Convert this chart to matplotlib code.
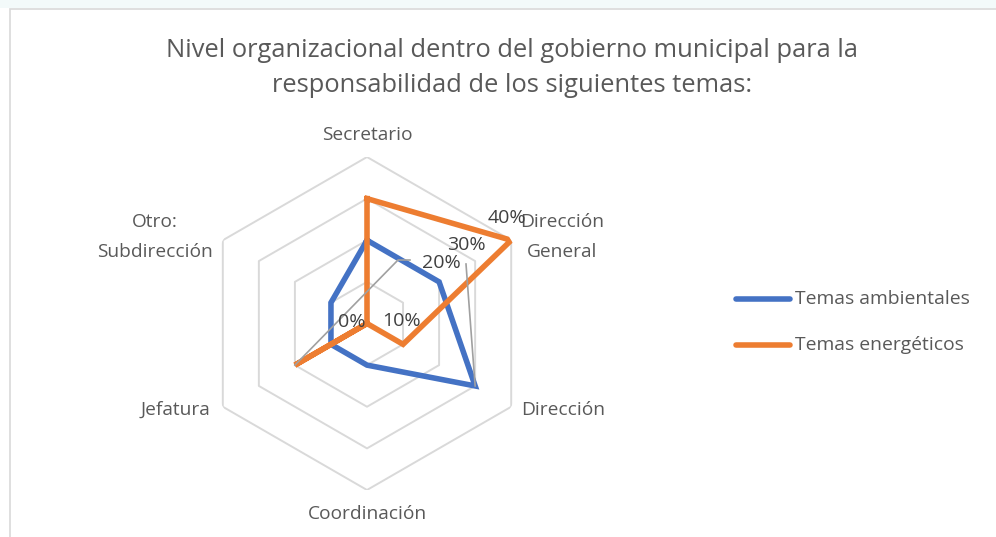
import numpy as np
import matplotlib
matplotlib.use("Agg")
import matplotlib.pyplot as plt
from matplotlib.patches import Rectangle
from matplotlib.lines import Line2D

categories = ["Secretario", "Dirección\nGeneral", "Dirección", "Coordinación", "Jefatura", "Otro:\nSubdirección"]
ambientales = [20, 20, 30, 10, 10, 10]
energeticos = [30, 40, 10, 0, 20, 0]
series_names = ["Temas ambientales", "Temas energéticos"]
tick_values = [0, 10, 20, 30, 40]
tick_labels = ["0%", "10%", "20%", "30%", "40%"]
title = "Nivel organizacional dentro del gobierno municipal para la\nresponsabilidad de los siguientes temas:"

BLUE = "#4472C4"
ORANGE = "#ED7D31"
GRID = "#D9D9D9"
TEXT = "#595959"
FONT = "Open Sans"

W, H = 996, 537
fig = plt.figure(figsize=(W / 100, H / 100), dpi=100)
fig.patch.set_facecolor("white")

# chart frame
fig.patches.append(Rectangle((10 / W, -0.01), 1.2, (H - 9) / H + 0.01, transform=fig.transFigure,
                             fill=False, edgecolor="#D9D9D9", linewidth=1.2))
fig.patches.append(Rectangle((0, (H - 8) / H), 1, 8 / H, transform=fig.transFigure,
                             facecolor="#F3FAFA", edgecolor="none"))

cx, cy, R = 367, 323.5, 166.5
ax = fig.add_axes([(cx - R) / W, (H - cy - R) / H, 2 * R / W, 2 * R / H], projection="polar")
ax.set_theta_offset(np.pi / 2)
ax.set_theta_direction(-1)
ax.set_ylim(0, 40)
ax.grid(False)
ax.set_xticks([])
ax.set_yticks([])
ax.spines["polar"].set_visible(False)
ax.patch.set_alpha(0)

n = len(categories)
theta = np.arange(n) * 2 * np.pi / n
theta_c = np.append(theta, theta[0])

for v in tick_values[1:]:
    ax.plot(theta_c, [v] * (n + 1), color=GRID, lw=1.4, zorder=1)

ax.plot(theta_c, ambientales + ambientales[:1], color=BLUE, lw=4.0, solid_joinstyle="miter", zorder=3)
ax.plot(theta_c, energeticos + energeticos[:1], color=ORANGE, lw=4.0, solid_joinstyle="miter", zorder=4)

# axis value labels (displaced, with leader lines as in the reference)
lab_pos = {0: (352, 322), 10: (401, 321), 20: (441, 263), 30: (466, 245), 40: (507, 218)}
for v, t in zip(tick_values, tick_labels):
    x, y = lab_pos[v]
    fig.text(x / W, 1 - y / H, t, ha="center", va="center", fontsize=14, color="#404040", family=FONT, zorder=6)

# leader lines
def px(x, y):
    return x / W, 1 - y / H
ptJ = (cx - 20 / 40 * R * np.cos(np.pi / 6), cy + 20 / 40 * R * np.sin(np.pi / 6))
ptD = (cx + 30 / 40 * R * np.cos(np.pi / 6), cy + 30 / 40 * R * np.sin(np.pi / 6))
l1 = [ptJ, (398, 260), (410, 260)]
l2 = [ptD, (466, 264)]
for pts in (l1, l2):
    xs, ys = zip(*[px(*p) for p in pts])
    fig.add_artist(Line2D(xs, ys, color="#A0A0A0", lw=1.2, zorder=2, transform=fig.transFigure))

# category labels
cat_pos = [(367, 135, "center"), (562, 237, "center"), (563, 410, "center"),
           (367, 514, "center"), (175, 410, "center"), (155, 237, "center")]
for c, (x, y, ha) in zip(categories, cat_pos):
    fig.text(x / W, 1 - y / H, c, ha=ha, va="center", fontsize=13.8, color=TEXT, family=FONT,
             linespacing=1.9)

fig.text(512 / W, 1 - 68 / H, title, ha="center", va="center", fontsize=18.4, color=TEXT, family=FONT,
         linespacing=1.57)

# legend
for i, (name, col) in enumerate(zip(series_names, [BLUE, ORANGE])):
    y = 299 + i * 46
    fig.add_artist(Line2D([736 / W, 790 / W], [1 - y / H] * 2, color=col, lw=4.0,
                          solid_capstyle="round", transform=fig.transFigure))
    fig.text(795 / W, 1 - y / H, name, ha="left", va="center", fontsize=13.9, color=TEXT, family=FONT)

fig.savefig("out.png", dpi=100)
